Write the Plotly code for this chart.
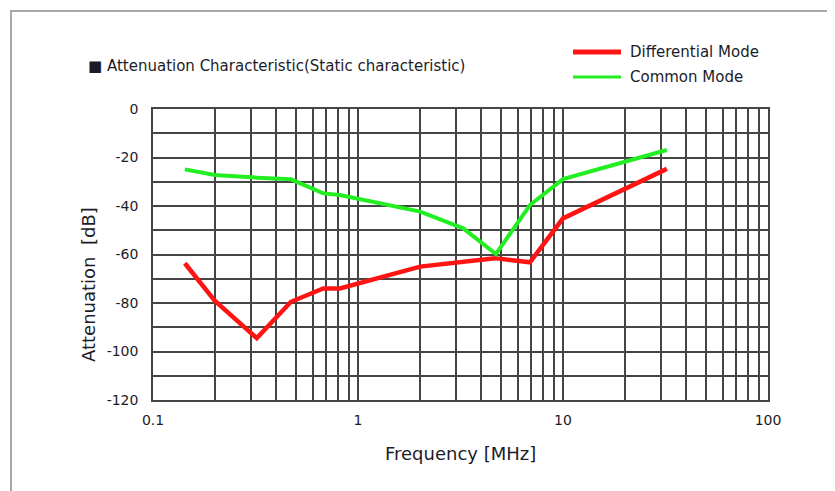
import plotly.graph_objects as go

# ---- data ----
diff_freq = [0.143, 0.2, 0.321, 0.471, 0.677, 0.816, 2.01, 4.66, 6.9, 10.0, 32.1]
diff_att = [-63.6, -79.0, -94.5, -79.5, -74.0, -74.0, -65.0, -61.5, -63.2, -45.1, -24.7]

cm_freq = [0.143, 0.2, 0.321, 0.471, 0.677, 0.816, 2.01, 3.26, 4.71, 6.9, 10.0, 32.1]
cm_att = [-24.9, -27.2, -28.3, -29.0, -34.8, -35.5, -42.3, -49.2, -59.8, -39.6, -28.9, -16.9]

x_tick_vals = [0.1, 1, 10, 100]
x_tick_text = ["0.1", "1", "10", "100"]
x_minor_vals = [m * d for d in (0.1, 1, 10) for m in range(2, 10)]
y_tick_vals = [0, -20, -40, -60, -80, -100, -120]
y_tick_text = ["0", "-20", "-40", "-60", "-80", "-100", "-120"]

series_names = ["Differential Mode", "Common Mode"]
title_text = "Attenuation Characteristic(Static characteristic)"
x_title = "Frequency [MHz]"
y_title = "Attenuation  [dB]"

# ---- layout geometry (reference pixels; page body has an 8px margin) ----
OFF = 8
W, H = 835 - OFF, 491 - OFF
L, R, T, B = 153 - OFF, 768 - OFF, 109 - OFF, 400 - OFF
pw, ph = R - L, B - T


def px(x):
    return (x - OFF - L) / pw


def py(y):
    return (B - (y - OFF)) / ph


FONT = "DejaVu Sans"
TXT = "#1c1c28"
GRID = "#454545"
RED = "#ff1414"
GREEN = "#22ee22"

fig = go.Figure()
fig.add_trace(go.Scatter(x=diff_freq, y=diff_att, mode="lines", name=series_names[0],
                         line=dict(color=RED, width=4.5), showlegend=False))
fig.add_trace(go.Scatter(x=cm_freq, y=cm_att, mode="lines", name=series_names[1],
                         line=dict(color=GREEN, width=4), showlegend=False))

fig.update_layout(
    width=W, height=H,
    margin=dict(l=L, r=W - R, t=T, b=H - B, pad=0),
    paper_bgcolor="white", plot_bgcolor="white",
    font=dict(family=FONT, size=14, color=TXT),
    xaxis=dict(type="log", range=[-1, 2], tickvals=x_tick_vals, ticktext=x_tick_text,
               showgrid=True, gridcolor=GRID, gridwidth=1.5,
               minor=dict(tickvals=x_minor_vals, showgrid=True, gridcolor=GRID, gridwidth=1.5, ticks=""),
               showline=True, linecolor=GRID, linewidth=1.5, mirror=True,
               ticks="", zeroline=False, ticklabelstandoff=6, tickfont=dict(size=14, color=TXT)),
    yaxis=dict(range=[-120, 0], tickvals=y_tick_vals, ticktext=y_tick_text,
               showgrid=True, gridcolor=GRID, gridwidth=1.5,
               minor=dict(dtick=10, showgrid=True, gridcolor=GRID, gridwidth=1.5, ticks=""),
               showline=True, linecolor=GRID, linewidth=1.5, mirror=True,
               ticks="", zeroline=False, ticklabelstandoff=10, tickfont=dict(size=14, color=TXT)),
)

# outer frame
fig.add_shape(type="rect", xref="paper", yref="paper",
              x0=px(11), y0=py(540), x1=px(880), y1=py(11),
              line=dict(color="#a8a8a8", width=2), layer="below")

# legend (drawn manually to match the reference placement)
for i, (name, color, lw) in enumerate(zip(series_names, [RED, GREEN], [5, 3])):
    yy = 52 + 25 * i
    fig.add_shape(type="line", xref="paper", yref="paper",
                  x0=px(573), x1=px(621), y0=py(yy), y1=py(yy),
                  line=dict(color=color, width=lw))
    fig.add_annotation(xref="paper", yref="paper", x=px(628), y=py(yy), xanchor="left", yanchor="middle",
                       text=name, showarrow=False, font=dict(family=FONT, size=15, color=TXT))

# title
fig.add_annotation(xref="paper", yref="paper", x=px(86), y=py(66), xanchor="left", yanchor="middle",
                   text="■ " + title_text, showarrow=False, font=dict(family=FONT, size=15, color=TXT))
# axis titles
fig.add_annotation(xref="paper", yref="paper", x=px(460), y=py(453), xanchor="center", yanchor="middle",
                   text=x_title, showarrow=False, font=dict(family=FONT, size=18, color=TXT))
fig.add_annotation(xref="paper", yref="paper", x=px(88), y=py(285), xanchor="center", yanchor="middle",
                   text=y_title, textangle=-90, showarrow=False, font=dict(family=FONT, size=18, color=TXT))

fig.write_html("out.html")
